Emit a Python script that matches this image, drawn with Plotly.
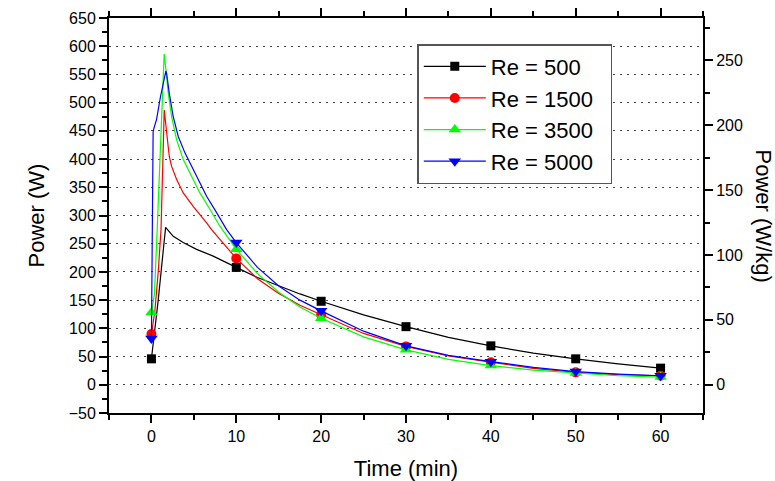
import plotly.graph_objects as go

# ---------------- data ----------------
marker_times = [0, 10, 20, 30, 40, 50, 60]

t_re500 = [0, 0.8, 1.67, 2.57, 3.75, 5.32, 7.28, 9.45, 10, 12.5, 15, 17.5, 20, 25, 30, 35, 40, 45, 50, 55, 60]
p_re500 = [46, 150, 279, 263, 252, 240, 228, 213, 208, 190, 175, 161, 148, 124, 103, 84, 69, 56, 46, 37, 29.5]

t_re1500 = [0, 0.4, 0.8, 1.13, 1.51, 1.71, 1.86, 2.1, 2.38, 2.97, 3.75, 4.92, 6.5, 7.09, 8.5, 10, 12.5, 15, 17.5, 20, 25, 30, 35, 40, 45, 50, 55, 60]
p_re1500 = [90, 130, 200, 275, 487, 458, 428, 405, 387, 364, 340, 316, 287, 275, 250, 224, 188, 162, 141, 124, 91, 68, 51, 40, 29, 22, 18, 16]

t_re3500 = [0, 0.35, 0.68, 1.0, 1.39, 1.5, 1.71, 1.98, 2.38, 2.97, 3.75, 4.73, 5.71, 6.89, 8.07, 10, 12.5, 15, 17.5, 20, 25, 30, 35, 40, 45, 50, 55, 60]
p_re3500 = [128, 160, 275, 390, 560, 586, 558, 517, 475, 434, 399, 369, 340, 311, 281, 240, 197, 164, 138, 118, 85, 62, 45, 34, 26, 21, 16, 13.6]

t_re5000 = [0, 0.2, 0.3, 0.6, 1.06, 1.7, 1.79, 2.1, 2.57, 3.16, 3.95, 4.53, 5.32, 6.5, 7.68, 8.86, 10, 12.5, 15, 17.5, 20, 25, 30, 35, 40, 45, 50, 55, 60]
p_re5000 = [82, 448, 455, 470, 510, 556, 552, 517, 475, 440, 411, 393, 369, 334, 305, 275, 252, 208, 175, 150, 131, 95, 69, 52, 41, 31, 23.5, 19, 16]

series_names = ["Re = 500", "Re = 1500", "Re = 3500", "Re = 5000"]
series_t = [t_re500, t_re1500, t_re3500, t_re5000]
series_p = [p_re500, p_re1500, p_re3500, p_re5000]

right_ticks = [0, 50, 100, 150, 200, 250]
left_ticks = list(range(-50, 651, 50))
x_ticks = [0, 10, 20, 30, 40, 50, 60]

MASS = 2.3  # W per W/kg (right axis scale)

# ---------------- styles ----------------
colors = ["#000000", "#FF0000", "#00FF00", "#0000FF"]
symbols = ["square", "circle", "triangle-up", "triangle-down"]
msizes = [9, 10, 11, 11]
FONT = "Liberation Sans, Arial, sans-serif"
PAD = "\u00a0\u00a0"

fig = go.Figure()
for name, ts, ps, c, s, ms in zip(series_names, series_t, series_p, colors, symbols, msizes):
    fig.add_trace(go.Scatter(x=ts, y=ps, mode="lines", line=dict(color=c, width=1.2),
                             showlegend=False, hoverinfo="skip"))
    mx = [t for t in ts if t in marker_times]
    my = [p for t, p in zip(ts, ps) if t in marker_times]
    fig.add_trace(go.Scatter(x=mx, y=my, mode="markers",
                             marker=dict(color=c, symbol=s, size=ms, line=dict(width=0)),
                             showlegend=False))
    # legend entry (line + marker)
    fig.add_trace(go.Scatter(x=[None], y=[None], mode="lines+markers", name=name + PAD,
                             line=dict(color=c, width=1.2),
                             marker=dict(color=c, symbol=s, size=ms, line=dict(width=0))))

# invisible trace to activate right axis
fig.add_trace(go.Scatter(x=[None], y=[None], yaxis="y2", showlegend=False))

axis_common = dict(showline=True, linecolor="black", linewidth=2, ticks="outside",
                   tickcolor="black", tickwidth=1.5, ticklen=8, zeroline=False, automargin=False,
                   tickfont=dict(family=FONT, size=16, color="black"))

fig.update_layout(
    width=775, height=481,
    margin=dict(l=109, r=72, t=18, b=68),
    plot_bgcolor="white", paper_bgcolor="white",
    font=dict(family=FONT, color="black"),
    xaxis=dict(range=[-5, 65], tickvals=x_ticks, mirror="ticks", showgrid=False,
               minor=dict(dtick=5, tick0=0, ticks="outside", ticklen=5, tickwidth=1.5, tickcolor="black", showgrid=False),
               title=dict(text="Time (min)", font=dict(family=FONT, size=22), standoff=16),
               **axis_common),
    yaxis=dict(range=[-50, 650], tickvals=left_ticks, showgrid=True, gridcolor="#444444",
               gridwidth=1, griddash="2px,5px",
               minor=dict(dtick=25, tick0=0, ticks="outside", ticklen=5, tickwidth=1.5, tickcolor="black", showgrid=False),
               title=dict(text="Power (W)", font=dict(family=FONT, size=22), standoff=18),
               **axis_common),
    yaxis2=dict(range=[-50 / MASS, 650 / MASS], tickvals=right_ticks, overlaying="y", side="right",
                showgrid=False,
                minor=dict(dtick=25, tick0=0, ticks="outside", ticklen=5, tickwidth=1.5, tickcolor="black", showgrid=False),
                **axis_common),
    legend=dict(x=0.519, y=0.934, xanchor="left", yanchor="top",
                bgcolor="white", bordercolor="#555555", borderwidth=1.5,
                font=dict(family=FONT, size=22, color="black"), itemwidth=62),
    annotations=[dict(text="Power (W/kg)", textangle=90, xref="paper", yref="paper",
                      x=1, xanchor="center", xshift=60, y=0.5, showarrow=False,
                      font=dict(family=FONT, size=22, color="black"))],
)

fig.write_html("out.html", config={"displayModeBar": False},
               post_script="document.body.style.margin='0';document.body.style.padding='0';")
